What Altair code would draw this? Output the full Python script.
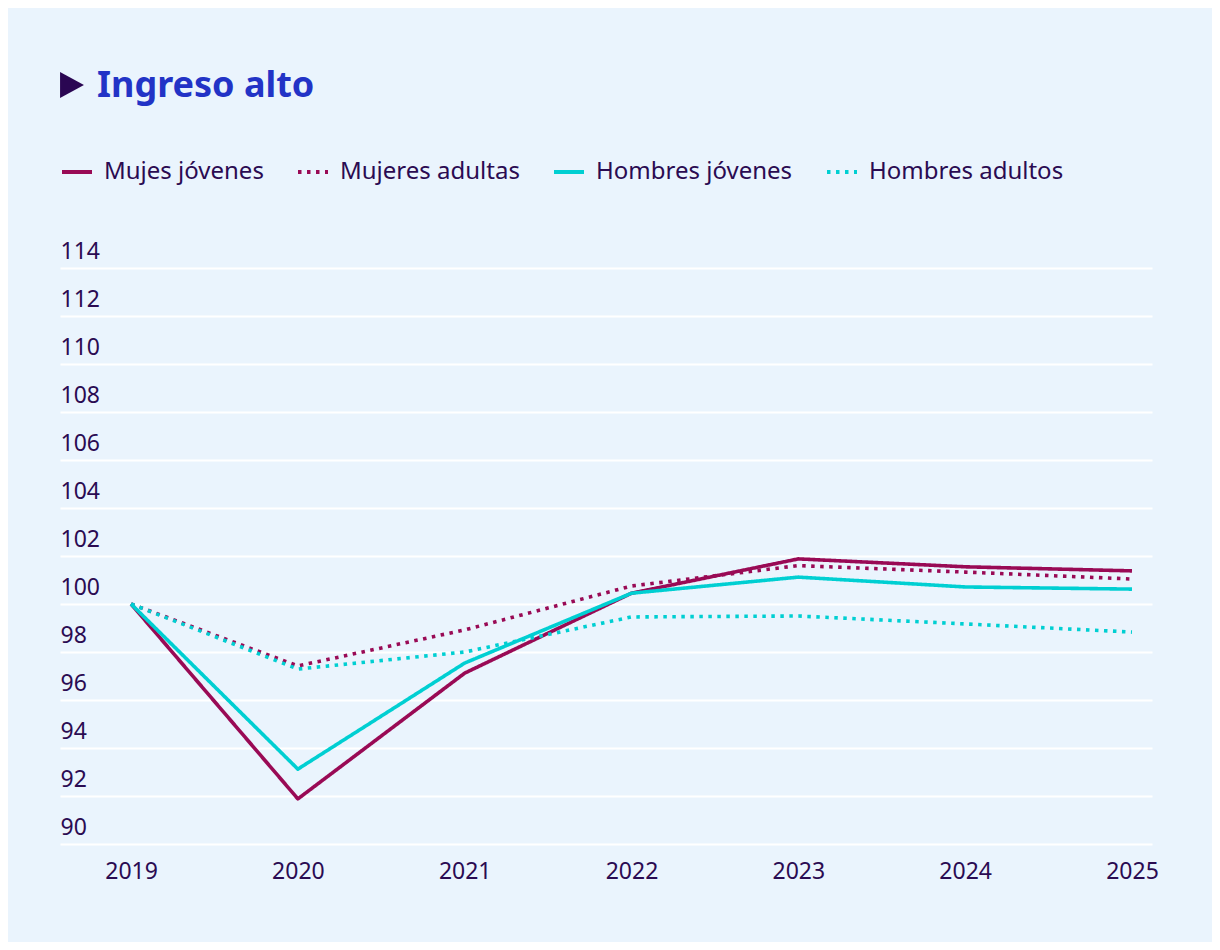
import altair as alt
import pandas as pd

years = [2019, 2020, 2021, 2022, 2023, 2024, 2025]
series_names = ["Mujes jóvenes", "Mujeres adultas", "Hombres jóvenes", "Hombres adultos"]
mujeres_jovenes = [100.0, 91.88, 97.12, 100.45, 101.88, 101.55, 101.38]
mujeres_adultas = [100.0, 97.42, 98.92, 100.75, 101.6, 101.33, 101.04]
hombres_jovenes = [100.0, 93.12, 97.54, 100.45, 101.12, 100.71, 100.62]
hombres_adultos = [100.0, 97.29, 98.0, 99.46, 99.5, 99.17, 98.83]
y_ticks = list(range(90, 115, 2))

series_values = [mujeres_jovenes, mujeres_adultas, hombres_jovenes, hombres_adultos]
rows = []
for name, vals in zip(series_names, series_values):
    for yr, v in zip(years, vals):
        rows.append({"serie": name, "year": yr, "value": v})
df = pd.DataFrame(rows)

MAGENTA = "#990a55"
CYAN = "#00cfd2"
TEXT = "#2a0b52"
TITLE_BLUE = "#2233c6"
BG = "#eaf4fd"
FONT = "Noto Sans"

colors = [MAGENTA, MAGENTA, CYAN, CYAN]
dashes = [[1, 0], [3.5, 5.5], [1, 0], [3.5, 5.5]]

legend = alt.Legend(
    title=None, orient="none", direction="horizontal", legendX=0, legendY=-113,
    symbolType="stroke", symbolSize=900, symbolStrokeWidth=4,
    labelFont=FONT, labelFontSize=24, labelColor=TEXT, labelOffset=10,
    columnPadding=26, padding=0, labelLimit=400,
)

lines = alt.Chart(df).mark_line(strokeWidth=3.6, strokeJoin="round").encode(
    x=alt.X("year:Q", title=None,
            scale=alt.Scale(domain=[2018.574, 2025.12], nice=False, zero=False),
            axis=alt.Axis(values=years, format="d", grid=False, domain=False, ticks=False,
                          labelFont=FONT, labelFontSize=23, labelColor=TEXT,
                          labelBaseline="alphabetic", labelPadding=34, labelFlush=False,
                          labelOverlap=False)),
    y=alt.Y("value:Q", title=None,
            scale=alt.Scale(domain=[90, 114], nice=False, zero=False),
            axis=alt.Axis(values=y_ticks, grid=True, gridColor="#ffffff", gridWidth=2,
                          domain=False, ticks=False, labelAlign="left", labelPadding=0,
                          labelBaseline="alphabetic", labelOffset=-10,
                          labelFont=FONT, labelFontSize=23, labelColor=TEXT,
                          labelOverlap=False)),
    color=alt.Color("serie:N", scale=alt.Scale(domain=series_names, range=colors), legend=legend),
    strokeDash=alt.StrokeDash("serie:N", scale=alt.Scale(domain=series_names, range=dashes), legend=legend),
    order="year:Q",
)

marker_df = pd.DataFrame({"k": [0]})
triangle = alt.Chart(marker_df).mark_point(
    shape="M -0.92 -1 L 0.92 0 L -0.92 1 Z", filled=True, size=676, color="#2a0652", opacity=1
).encode(x=alt.value(12), y=alt.value(-183))

title_text = alt.Chart(marker_df).mark_text(
    text="Ingreso alto", font=FONT, fontSize=36, fontWeight="bold", color=TITLE_BLUE,
    align="left", baseline="alphabetic"
).encode(x=alt.value(37), y=alt.value(-171))

chart = alt.layer(lines, triangle, title_text).properties(
    width=1092, height=576,
    autosize=alt.AutoSizeParams(type="none"),
    padding={"left": 52, "top": 260, "right": 60, "bottom": 98},
    background=BG,
).configure_view(stroke=None)

chart.save("out.html", embed_options={"renderer": "svg", "actions": False})
